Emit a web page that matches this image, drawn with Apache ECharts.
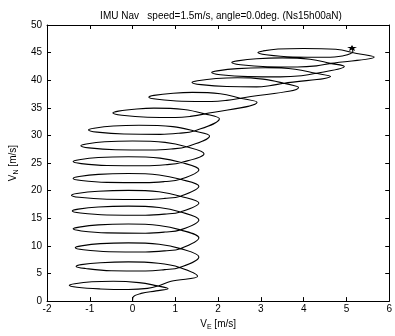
<!DOCTYPE html>
<html><head><meta charset="utf-8">
<script src="https://cdn.jsdelivr.net/npm/echarts@6/dist/echarts.min.js"></script>
<style>html,body{margin:0;padding:0;background:#fff}#c{width:395px;height:336px}</style>
</head><body><div id="c"></div>
<script>
// V_E [m/s], V_N [m/s] pairs, in path order
const startLeg = [[0,0],[0.01,0.7],[0.2,1.4],[0.55,1.85],[0.83,2.25]];
const loop01 = [[0.55,2.8],[0.15,3.35],[-0.45,3.6],[-0.95,3.5],[-1.35,3.15],[-1.48,2.85],[-1.3,2.5],[-0.75,2.2],[-0.1,2.1],[0.35,2.3],[0.6,2.75],[0.9,3.6],[1.52,4.5]];
const loop02 = [[1.1,6.1],[0.6,6.85],[-0.1,7.1],[-0.75,6.95],[-1.2,6.6],[-1.32,6.27],[-1.1,5.9],[-0.5,5.5],[0.3,5.45],[0.75,5.7],[1.1,6.1],[1.55,8.0]];
const loop03 = [[1.12,9.5],[0.62,10.3],[-0.1,10.55],[-0.75,10.4],[-1.2,10.0],[-1.34,9.68],[-1.15,9.3],[-0.55,8.95],[0.3,8.9],[0.75,9.1],[1.12,9.5],[1.55,11.45]];
const loop04 = [[1.12,12.9],[0.62,13.7],[-0.1,13.95],[-0.8,13.8],[-1.25,13.4],[-1.39,13.08],[-1.2,12.7],[-0.6,12.35],[0.3,12.3],[0.75,12.5],[1.12,12.9],[1.55,14.7]];
const loop05 = [[1.12,16.15],[0.62,16.95],[-0.1,17.2],[-0.8,17.05],[-1.27,16.65],[-1.41,16.31],[-1.22,15.95],[-0.6,15.6],[0.3,15.55],[0.75,15.75],[1.12,16.15],[1.55,17.75]];
const loop06 = [[1.12,19.0],[0.62,19.8],[-0.1,20.05],[-0.8,19.9],[-1.3,19.5],[-1.43,19.18],[-1.25,18.8],[-0.6,18.45],[0.3,18.4],[0.75,18.6],[1.12,19.0],[1.55,20.8]];
const loop07 = [[1.12,22.05],[0.62,22.85],[-0.1,23.1],[-0.8,22.95],[-1.25,22.55],[-1.39,22.22],[-1.2,21.85],[-0.6,21.5],[0.3,21.45],[0.75,21.65],[1.12,22.05],[1.55,23.8]];
const loop08 = [[1.14,25.1],[0.64,25.9],[-0.1,26.15],[-0.8,26.0],[-1.25,25.6],[-1.39,25.27],[-1.2,24.9],[-0.6,24.55],[0.3,24.5],[0.77,24.7],[1.14,25.1],[1.67,26.7]];
const loop09 = [[1.26,27.96],[0.76,28.75],[0.0,29.0],[-0.65,28.85],[-1.08,28.45],[-1.21,28.14],[-1.02,27.75],[-0.4,27.4],[0.45,27.35],[0.9,27.55],[1.26,27.96],[1.8,29.9]];
const loop10 = [[1.44,30.8],[0.94,31.6],[0.15,31.85],[-0.45,31.7],[-0.9,31.3],[-1.03,31.0],[-0.83,30.6],[-0.2,30.25],[0.65,30.2],[1.08,30.4],[1.44,30.8],[2.03,33.0]];
const loop11 = [[1.69,33.9],[1.2,34.7],[0.5,34.95],[0.1,34.8],[-0.33,34.4],[-0.46,34.05],[-0.25,33.65],[0.35,33.3],[1.0,33.25],[1.35,33.45],[1.69,33.9],[2.91,36.0]];
const loop12 = [[2.52,36.75],[2.05,37.55],[1.4,37.8],[0.95,37.65],[0.5,37.25],[0.38,36.92],[0.58,36.55],[1.15,36.2],[1.85,36.15],[2.2,36.35],[2.52,36.75],[3.88,38.7]];
const loop13 = [[3.54,39.45],[3.05,40.2],[2.45,40.45],[1.95,40.3],[1.52,39.9],[1.39,39.6],[1.6,39.2],[2.2,38.85],[2.9,38.8],[3.2,39.0],[3.54,39.45],[4.63,40.7]];
const loop14 = [[4.29,41.25],[3.8,42.0],[3.1,42.25],[2.45,42.1],[1.98,41.7],[1.85,41.4],[2.05,41.0],[2.7,40.65],[3.45,40.6],[3.95,40.8],[4.29,41.25],[4.95,42.5]];
const loop15 = [[4.63,43.05],[4.15,43.8],[3.5,44.05],[2.9,43.9],[2.45,43.5],[2.32,43.2],[2.52,42.8],[3.15,42.45],[3.85,42.4],[4.3,42.6],[4.63,43.05],[5.65,44.2]];
const loop16 = [[5.24,44.85],[4.75,45.6],[4.0,45.75],[3.4,45.65],[3.05,45.3],[2.93,45.0],[3.12,44.6],[3.75,44.2],[4.5,44.15],[4.9,44.4],[5.15,45.2],[5.13,45.85]];

const xTickValues = [-2,-1,0,1,2,3,4,5,6];
const yTickValues = [0,5,10,15,20,25,30,35,40,45,50];
const titleText = 'IMU Nav   speed=1.5m/s, angle=0.0deg. (Ns15h00aN)';

const track = [].concat(startLeg, loop01, loop02, loop03, loop04, loop05, loop06, loop07, loop08,
  loop09, loop10, loop11, loop12, loop13, loop14, loop15, loop16);
const lastIdx = track.length - 1;
const seriesData = track.map((p, i) => i === lastIdx
  ? {value: p, symbol: 'path://M0,-5L1.2,-1.6L5,-1.5L2,0.9L3,4.8L0,2.5L-3,4.8L-2,0.9L-5,-1.5L-1.2,-1.6Z', symbolSize: [10, 6], itemStyle: {color: '#000'}}
  : {value: p, symbol: 'none'});

const font = 'Liberation Sans';
function axisCommon() {
  return {
    axisLine: {show: true, onZero: false, lineStyle: {color: '#000', width: 1}},
    axisTick: {show: true, inside: true, length: 4, lineStyle: {color: '#000'}},
    splitLine: {show: false}
  };
}
const chart = echarts.init(document.getElementById('c'), null, {renderer: 'canvas'});
chart.setOption({
  animation: false,
  backgroundColor: '#fff',
  title: {text: titleText, left: 216, textAlign: 'center', top: 6,
    textStyle: {fontFamily: font, fontSize: 10, fontWeight: 'normal', color: '#000'}},
  grid: {left: 40, right: 2, top: 25, bottom: 32},
  xAxis: [
    Object.assign({type: 'value', min: xTickValues[0], max: xTickValues[xTickValues.length-1], interval: 1,
      position: 'bottom',
      axisLabel: {fontFamily: font, fontSize: 10, color: '#000', margin: 3, showMinLabel: true, showMaxLabel: true},
      name: '{v|V}{s|E}{v| [m/s]}', nameLocation: 'middle', nameGap: 14,
      nameTextStyle: {rich: {v: {fontFamily: font, fontSize: 10, color: '#000', lineHeight: 14},
        s: {fontFamily: font, fontSize: 7, color: '#000', lineHeight: 8, verticalAlign: 'bottom'}}}
    }, axisCommon()),
    Object.assign({type: 'value', min: xTickValues[0], max: xTickValues[xTickValues.length-1], interval: 1,
      position: 'top', axisLabel: {show: false}}, axisCommon())
  ],
  yAxis: [
    Object.assign({type: 'value', min: yTickValues[0], max: yTickValues[yTickValues.length-1], interval: 5,
      position: 'left',
      axisLabel: {fontFamily: font, fontSize: 10, color: '#000', margin: 5},
      name: '{v|V}{s|N}{v| [m/s]}', nameLocation: 'middle', nameGap: 21, nameRotate: 90,
      nameTextStyle: {rich: {v: {fontFamily: font, fontSize: 10, color: '#000', lineHeight: 14},
        s: {fontFamily: font, fontSize: 7, color: '#000', lineHeight: 8, verticalAlign: 'bottom'}}}
    }, axisCommon()),
    Object.assign({type: 'value', min: yTickValues[0], max: yTickValues[yTickValues.length-1], interval: 5,
      position: 'right', axisLabel: {show: false}}, axisCommon())
  ],
  series: [{
    type: 'line', xAxisIndex: 0, yAxisIndex: 0,
    data: seriesData, smooth: 0.4, showSymbol: true,
    lineStyle: {color: '#000', width: 1.1}, itemStyle: {color: '#000'},
    clip: false
  }]
});
</script></body></html>
